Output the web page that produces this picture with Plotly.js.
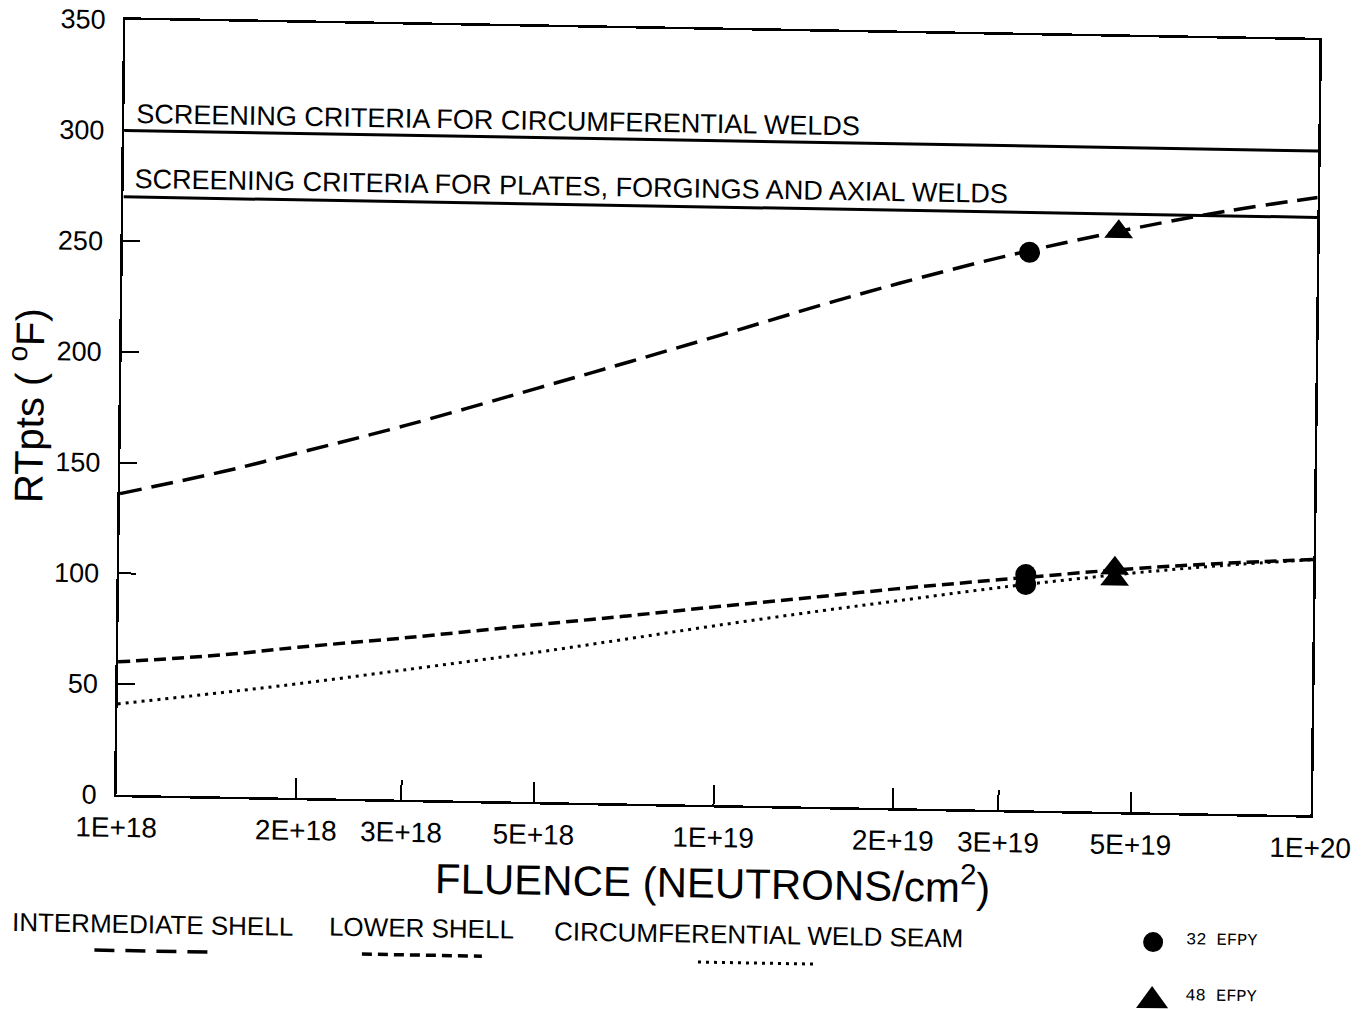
<!DOCTYPE html>
<html><head><meta charset="utf-8">
<script src="https://cdn.plot.ly/plotly-3.0.1.min.js"></script>
<style>
html,body{margin:0;padding:0;background:#fff;overflow:hidden;width:1366px;height:1009px;}
#chart{width:1366px;height:1009px;transform:matrix(1,0.0172,-0.0116,1,0,0);transform-origin:718px 417.5px;}
</style></head><body><div id="chart"></div>
<script>
// ---- data ----
const fluence = [1e18, 1.5e18, 2e18, 3e18, 5e18, 7e18, 1e19, 1.5e19, 2e19, 3e19, 5e19, 7e19, 1e20];
const intermediateShell = [136, 147, 156, 169, 187, 199, 212, 227, 237, 250, 264, 272, 279];
const lowerShell = [60, 64, 68, 73, 80, 84.5, 89.5, 95, 99, 104, 110, 113, 115.5];
const circWeldSeam = [41, 47, 51.5, 58.5, 67.5, 74, 81, 88.5, 93.5, 100.5, 108, 112, 115.5];

const efpy32Fluence = [3.3e19, 3.3e19, 3.3e19];
const efpy32RT = [252, 106.5, 102];
const efpy48Fluence = [4.65e19, 4.65e19, 4.65e19];
const efpy48RT = [262, 110, 105];

const criteriaFluence = [1e18, 1e20];
const circWeldCriterion = [300, 300];
const plateCriterion = [270, 270];

const xTickVals = [1e18, 2e18, 3e18, 5e18, 1e19, 2e19, 3e19, 5e19, 1e20];
const xTickText = ['1E+18', '2E+18', '3E+18', '5E+18', '1E+19', '2E+19', '3E+19', '5E+19', '1E+20'];
const yTickVals = [0, 50, 100, 150, 200, 250, 300, 350];

const seriesNames = ['INTERMEDIATE SHELL', 'LOWER SHELL', 'CIRCUMFERENTIAL WELD SEAM'];
const markerNames = ['32 EFPY', '48 EFPY'];
const criteriaNames = ['SCREENING CRITERIA FOR CIRCUMFERENTIAL WELDS', 'SCREENING CRITERIA FOR PLATES, FORGINGS AND AXIAL WELDS'];

// ---- layout geometry ----
const L = 121, T = 30, W = 1194, H = 775;
const px = X => (X - L) / W;
const py = Y => (T + H - Y) / H;
const FONT = 'Liberation Sans, Arial, Helvetica, sans-serif';
const MONO = 'Liberation Mono, DejaVu Sans Mono, monospace';

const traces = [
  {x: criteriaFluence, y: circWeldCriterion, mode: 'lines', line: {color: '#000', width: 3}, showlegend: false, hoverinfo: 'skip'},
  {x: criteriaFluence, y: plateCriterion, mode: 'lines', line: {color: '#000', width: 3}, showlegend: false, hoverinfo: 'skip'},
  {x: fluence, y: intermediateShell, name: seriesNames[0], mode: 'lines', line: {color: '#000', width: 3.5, dash: '22px,10px', shape: 'spline'}},
  {x: fluence, y: lowerShell, name: seriesNames[1], mode: 'lines', line: {color: '#000', width: 3.5, dash: '12px,6px', shape: 'spline'}},
  {x: fluence, y: circWeldSeam, name: seriesNames[2], mode: 'lines', line: {color: '#000', width: 3, dash: '3px,5px', shape: 'spline'}},
  {x: efpy32Fluence, y: efpy32RT, name: markerNames[0], mode: 'markers', marker: {symbol: 'circle', size: 21, color: '#000'}},
  {x: efpy48Fluence, y: efpy48RT, name: markerNames[1], mode: 'markers', marker: {symbol: 'triangle-up', size: 25, color: '#000'}}
];

const ann = (x, y, text, size, family) => ({xref: 'paper', yref: 'paper', x: px(x), y: py(y), text: text,
  showarrow: false, xanchor: 'center', yanchor: 'middle', font: {family: family || FONT, size: size, color: '#000'}});

const annotations = [
  {xref: 'paper', x: px(131), yref: 'y', y: circWeldCriterion[0], yshift: 17, xanchor: 'left', yanchor: 'middle',
   text: criteriaNames[0], showarrow: false, font: {family: FONT, size: 27, color: '#000'}},
  {xref: 'paper', x: px(130), yref: 'y', y: plateCriterion[0], yshift: 18.5, xanchor: 'left', yanchor: 'middle',
   text: criteriaNames[1], showarrow: false, font: {family: FONT, size: 27, color: '#000'}},
  ann(158.9, 933.5, seriesNames[0], 26),
  ann(427.9, 933, seriesNames[1], 26),
  ann(764, 934, seriesNames[2], 26),
  ann(1227.1, 931.4, markerNames[0], 17, MONO),
  ann(1227.7, 987.4, markerNames[1], 17, MONO)
];

const lineShape = (xc, y, half, dash, width) => ({type: 'line', xref: 'paper', yref: 'paper',
  x0: px(xc - half), x1: px(xc + half), y0: py(y), y1: py(y), line: {color: '#000', width: width, dash: dash}});

const shapes = [
  lineShape(158.2, 960.7, 57.5, '20px,11px', 3.5),
  lineShape(428.2, 960.1, 60, '10px,6px', 3.5),
  lineShape(764.3, 962.3, 60, '3px,5px', 3),
  {type: 'circle', xref: 'paper', yref: 'paper', x0: px(1149.1), x1: px(1169.1), y0: py(944.5), y1: py(924.5),
   fillcolor: '#000', line: {color: '#000', width: 0}},
  {type: 'path', xref: 'paper', yref: 'paper', fillcolor: '#000', line: {color: '#000', width: 0},
   path: 'M' + px(1158.6) + ',' + py(978.5) + ' L' + px(1142.8) + ',' + py(1000.8) + ' L' + px(1174.9) + ',' + py(1000.3) + ' Z'}
];

const layout = {
  width: 1366, height: 1009,
  margin: {l: L, r: 1366 - L - W, t: T, b: 1009 - T - H, pad: 0},
  paper_bgcolor: '#fff', plot_bgcolor: '#fff',
  showlegend: false,
  font: {family: FONT, color: '#000'},
  xaxis: {
    type: 'log', range: [18, 20], tickvals: xTickVals, ticktext: xTickText,
    ticks: 'inside', ticklen: 20, tickwidth: 2, tickcolor: '#000',
    showline: true, linecolor: '#000', linewidth: 2.5, mirror: true,
    showgrid: false, zeroline: false, ticklabelstandoff: 6,
    tickfont: {family: FONT, size: 28, color: '#000'},
    title: {text: 'FLUENCE (NEUTRONS/cm<sup>2</sup>)', font: {family: FONT, size: 42, color: '#000'}, standoff: 0}
  },
  yaxis: {
    range: [0, 350], tickvals: yTickVals,
    ticks: 'inside', ticklen: 17, tickwidth: 2, tickcolor: '#000',
    showline: true, linecolor: '#000', linewidth: 2.5, mirror: true,
    showgrid: false, zeroline: false, ticklabelstandoff: 12,
    tickfont: {family: FONT, size: 27, color: '#000'},
    title: {text: 'RTpts ( <sup>o</sup>F)', font: {family: FONT, size: 40, color: '#000'}, standoff: 0}
  },
  annotations: annotations,
  shapes: shapes
};

Plotly.newPlot('chart', traces, layout, {displayModeBar: false, staticPlot: true});
</script>
</body></html>
